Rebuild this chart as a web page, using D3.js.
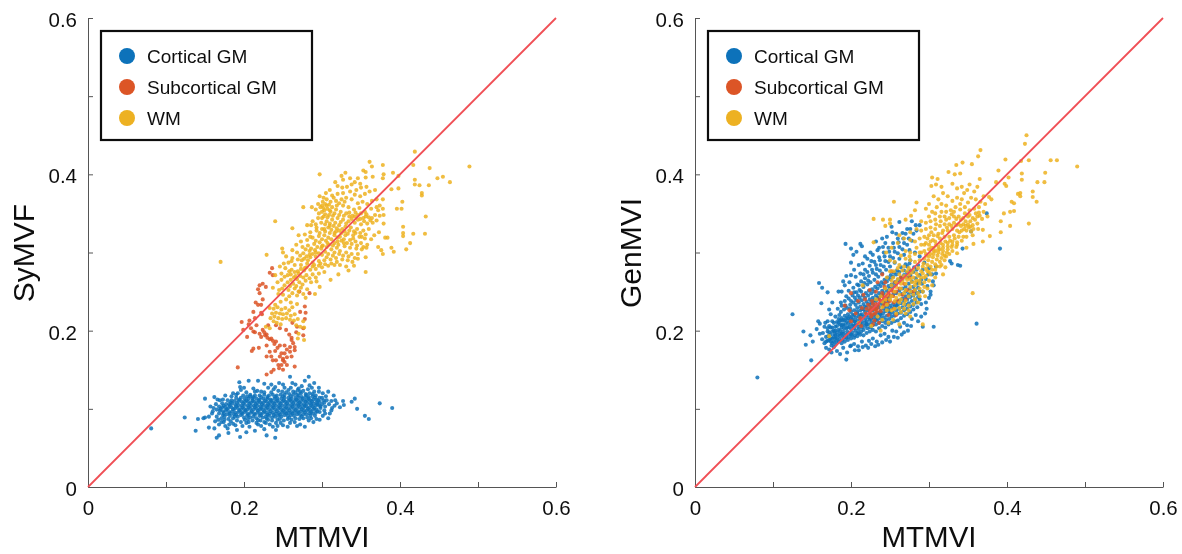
<!DOCTYPE html>
<html>
<head>
<meta charset="utf-8">
<script src="https://cdnjs.cloudflare.com/ajax/libs/d3/7.8.5/d3.min.js"></script>
<style>
  html, body { margin: 0; padding: 0; background: #fff; }
  svg { display: block; }
  text { font-family: "Liberation Sans", Arial, sans-serif; fill: #111; }
</style>
</head>
<body>
<div id="container"></div>
<script>
// values
var tissues = ['Cortical GM', 'Subcortical GM', 'WM'],
    colors = ['#0b72ba', '#dc5427', '#edb120'],
    tickValues = [0, 0.1, 0.2, 0.3, 0.4, 0.5, 0.6],
    tickLabels = ['0', '', '0.2', '', '0.4', '', '0.6'],
    identityLine = [0, 0.6],
    xTitle = 'MTMVI',
    yTitles = ['SyMVF', 'GenMVI'];

var corticalSyMVF = [
[.081,.075],[.124,.089],[.138,.072],[.141,.087],[.148,.088],[.150,.089],[.155,.09],[.155,.076],[.150,.113],[.162,.115],[.162,.075],[.168,.066],[.165,.063],[.180,.069],[.194,.134],[.195,.128],[.206,.136],[.218,.136],[.226,.132],[.259,.141],[.245,.133],[.283,.141],[.278,.136],[.290,.133],[.296,.127],[.327,.110],[.328,.105],[.338,.109],[.342,.113],[.345,.100],[.355,.091],[.360,.087],[.374,.107],[.390,.101],[.317,.111],[.313,.101],[.308,.088],[.278,.077],[.241,.073],[.240,.063],[.229,.066],[.256,.077],[.203,.070],[.195,.064],[.189,.079],[.176,.078],[.171,.083],[.183,.084],[.214,.072],[.222,.078],[.233,.08],[.247,.082],[.265,.083],[.272,.08],[.289,.083],[.297,.086],[.301,.091],[.31,.094],[.319,.107],[.323,.102],[.315,.117],[.308,.122],[.301,.12],[.287,.127],[.274,.129],[.266,.131],[.252,.127],[.238,.125],[.231,.127],[.222,.122],[.212,.126],[.203,.121],[.192,.12],[.184,.116],[.176,.117],[.169,.111],[.164,.106],[.161,.101],[.159,.094],[.165,.09],
[.171,.088],[.175,.086],[.18,.087],[.186,.088],[.191,.085],[.196,.083],[.201,.086],[.206,.083],[.211,.085],[.216,.082],[.221,.085],[.226,.083],[.231,.086],[.236,.085],[.241,.082],[.246,.087],[.251,.085],[.256,.087],[.261,.086],[.266,.088],[.271,.087],[.276,.088],[.281,.089],[.286,.088],[.291,.091],
[.168,.094],[.173,.092],[.178,.093],[.182,.091],[.187,.093],[.192,.09],[.196,.092],[.2,.089],[.204,.091],[.208,.089],[.212,.09],[.216,.088],[.22,.091],[.224,.089],[.228,.09],[.232,.091],[.236,.089],[.24,.09],[.244,.091],[.248,.09],[.252,.092],[.256,.091],[.26,.092],[.264,.091],[.268,.093],[.272,.092],[.276,.093],[.28,.093],[.284,.094],[.288,.094],[.292,.095],[.297,.096],[.303,.098],
[.165,.099],[.169,.098],[.173,.097],[.177,.098],[.181,.096],[.185,.097],[.189,.095],[.193,.096],[.197,.095],[.201,.096],[.205,.094],[.209,.095],[.213,.094],[.217,.095],[.221,.094],[.225,.095],[.229,.095],[.233,.094],[.237,.095],[.241,.094],[.245,.095],[.249,.095],[.253,.096],[.257,.095],[.261,.096],[.265,.096],[.269,.097],[.273,.097],[.277,.098],[.281,.098],[.285,.098],[.289,.099],[.293,.099],[.298,.101],[.304,.103],[.309,.106],
[.168,.103],[.172,.102],[.176,.102],[.18,.101],[.184,.102],[.188,.1],[.192,.101],[.196,.099],[.2,.1],[.204,.099],[.208,.1],[.212,.099],[.216,.1],[.22,.099],[.224,.099],[.228,.1],[.232,.099],[.236,.1],[.24,.099],[.244,.1],[.248,.099],[.252,.1],[.256,.1],[.26,.101],[.264,.1],[.268,.101],[.272,.102],[.276,.102],[.28,.103],[.284,.102],[.288,.103],[.292,.104],[.296,.105],[.3,.106],
[.172,.107],[.177,.106],[.181,.106],[.185,.107],[.189,.105],[.193,.105],[.197,.104],[.201,.105],[.205,.104],[.209,.104],[.213,.104],[.217,.104],[.221,.103],[.225,.104],[.229,.104],[.233,.104],[.237,.104],[.241,.104],[.245,.104],[.249,.104],[.253,.105],[.257,.105],[.261,.105],[.265,.105],[.269,.106],[.273,.106],[.277,.106],[.281,.107],[.285,.107],[.289,.107],[.293,.108],[.297,.109],[.302,.111],[.306,.111],
[.179,.111],[.184,.111],[.188,.11],[.193,.11],[.197,.109],[.201,.109],[.205,.109],[.209,.108],[.213,.109],[.217,.108],[.221,.108],[.225,.108],[.229,.109],[.233,.108],[.237,.108],[.241,.109],[.245,.108],[.249,.109],[.253,.109],[.257,.11],[.261,.109],[.265,.11],[.269,.11],[.273,.11],[.277,.111],[.281,.111],[.285,.111],[.289,.112],[.293,.112],[.297,.114],
[.19,.114],[.196,.114],[.201,.113],[.206,.113],[.211,.113],[.216,.113],[.22,.112],[.225,.113],[.23,.113],[.234,.112],[.239,.113],[.243,.113],[.248,.113],[.252,.114],[.257,.114],[.261,.113],[.266,.114],[.27,.114],[.274,.115],[.279,.115],[.283,.115],[.288,.116],[.292,.117],
[.208,.118],[.214,.117],[.22,.117],[.226,.118],[.232,.117],[.237,.118],[.242,.117],[.247,.118],[.252,.118],[.258,.119],[.263,.118],[.268,.118],[.273,.12],[.279,.119],[.284,.12],[.29,.122],
[.217,.123],[.226,.121],[.244,.123],[.249,.122],[.257,.124],[.263,.122],[.269,.124],[.276,.123],[.282,.125],[.24,.128],[.26,.127],[.208,.116],[.199,.117],
[.157,.103],[.16,.097],[.163,.084],[.168,.08],[.174,.083],[.179,.075],[.186,.081],[.191,.073],[.198,.078],[.207,.077],[.218,.08],[.226,.074],[.237,.077],[.25,.079],[.259,.082],[.268,.078],[.283,.085],[.293,.087],[.304,.094],[.312,.098],[.316,.104],[.312,.11],[.305,.116],[.296,.122],[.284,.13],[.27,.126],[.262,.133],[.25,.131],[.235,.131],[.214,.122],[.196,.124],[.186,.12],[.173,.112],[.166,.112],[.19,.118],[.2,.127],[.167,.086],[.181,.08],[.203,.082],[.228,.082],[.243,.078],
[.174,.0945],[.182,.094],[.19,.0925],[.198,.0935],[.206,.092],[.214,.0925],[.222,.092],[.23,.0925],[.238,.092],[.246,.0925],[.254,.094],[.262,.094],[.27,.095],[.278,.0955],[.286,.096],[.294,.097],
[.17,.1],[.178,.0995],[.186,.0995],[.194,.098],[.202,.098],[.21,.097],[.218,.0975],[.226,.097],[.234,.097],[.242,.097],[.25,.0975],[.258,.098],[.266,.0985],[.274,.0995],[.282,.1],[.29,.101],[.298,.103],
[.174,.104],[.182,.104],[.19,.103],[.198,.102],[.206,.102],[.214,.102],[.222,.101],[.23,.102],[.238,.102],[.246,.102],[.254,.102],[.262,.103],[.27,.104],[.278,.104],[.286,.105],[.294,.106],
[.183,.1085],[.191,.1075],[.199,.107],[.207,.1065],[.215,.106],[.223,.106],[.231,.106],[.239,.1065],[.247,.1065],[.255,.107],[.263,.1075],[.271,.108],[.279,.109],[.287,.1095],[.295,.1105],[.303,.108],
[.194,.112],[.203,.111],[.211,.1105],[.219,.1105],[.227,.1105],[.235,.1105],[.243,.111],[.251,.111],[.259,.1115],[.267,.112],[.275,.113],[.283,.113],[.291,.1145],[.3,.114],
[.204,.116],[.212,.115],[.222,.115],[.23,.115],[.24,.1155],[.25,.116],[.26,.116],[.27,.117],[.28,.1175],[.288,.119],[.235,.121],[.254,.121],[.266,.121],[.272,.122],
[.188,.09],[.205,.087],[.218,.0855],[.229,.0875],[.243,.086],[.258,.0885],[.274,.09],[.285,.091],[.175,.09]
];
var subcorticalSyMVF = [
[.236,.280],[.233,.274],[.237,.271],[.220,.258],[.224,.260],[.228,.256],[.218,.253],[.220,.248],[.215,.236],[.224,.240],[.218,.233],[.222,.233],[.212,.224],[.222,.223],[.223,.221],[.197,.211],[.207,.213],[.214,.216],[.199,.201],[.209,.203],[.212,.199],[.214,.198],[.204,.192],[.220,.196],[.224,.201],[.227,.194],[.230,.191],[.233,.189],[.237,.187],[.241,.186],[.222,.192],[.231,.207],[.241,.207],[.246,.203],[.254,.201],[.261,.191],[.261,.188],[.263,.184],[.265,.179],[.265,.175],[.276,.203],[.276,.194],[.278,.215],[.278,.231],[.212,.177],[.210,.174],[.229,.181],[.229,.167],[.235,.167],[.237,.162],[.246,.181],[.252,.181],[.259,.179],[.248,.171],[.252,.171],[.259,.173],[.250,.164],[.252,.160],[.248,.156],[.244,.156],[.250,.162],[.255,.156],[.192,.153],[.229,.144],[.235,.147],[.265,.154],[.241,.162],[.261,.167],[.284,.248],[.271,.250],[.226,.198],[.229,.195],[.235,.19],[.239,.183],[.243,.178],[.255,.176],[.246,.167],[.255,.166],[.245,.152],[.238,.15],[.25,.15],[.258,.195],[.267,.198],[.268,.205],[.262,.21],[.272,.224],[.279,.223],[.216,.207],[.206,.208],[.219,.178],[.233,.173],[.24,.174]
];
var wmSyMVF = [
[.170,.288],[.419,.429],[.417,.412],[.438,.408],[.489,.410],[.361,.416],[.364,.410],[.378,.412],[.353,.405],[.356,.403],[.365,.397],[.356,.396],[.379,.400],[.378,.395],[.391,.402],[.398,.398],[.297,.400],[.448,.395],[.455,.397],[.464,.390],[.437,.386],[.419,.393],[.419,.387],[.425,.386],[.428,.376],[.428,.373],[.398,.382],[.389,.381],[.378,.368],[.403,.365],[.396,.356],[.402,.356],[.378,.356],[.379,.348],[.374,.347],[.433,.346],[.404,.333],[.404,.325],[.404,.321],[.417,.324],[.432,.324],[.413,.312],[.408,.304],[.389,.306],[.392,.301],[.378,.298],[.376,.303],[.372,.307],[.381,.319],[.384,.319],[.373,.326],[.379,.337],[.357,.306],[.356,.294],[.346,.292],[.356,.275],[.341,.283],[.334,.277],[.321,.272],[.311,.265],[.297,.256],[.293,.263],[.240,.340],[.229,.297],[.276,.358],[.287,.358],[.262,.331],[.249,.305],[.250,.300],
[.325,.398],[.327,.393],[.33,.402],[.336,.395],[.342,.39],[.338,.387],[.346,.395],[.349,.388],[.344,.38],[.35,.383],[.357,.384],[.32,.385],[.317,.39],[.326,.383],[.332,.384],[.336,.378],[.31,.38],[.305,.376],[.302,.37],[.313,.373],[.32,.375],[.327,.376],[.342,.374],[.349,.372],[.355,.375],[.361,.378],[.368,.38],[.37,.368],[.364,.366],[.358,.362],[.352,.365],[.346,.363],[.338,.368],[.331,.37],[.325,.368],[.318,.366],[.311,.365],[.304,.362],[.298,.358],[.292,.355],[.3,.352],[.307,.356],[.313,.358],[.319,.36],[.327,.36],[.334,.358],[.341,.355],[.348,.357],[.355,.352],[.363,.356],[.37,.358],[.374,.36],[.368,.348],[.36,.345],[.353,.344],[.346,.348],[.339,.347],[.331,.35],[.324,.352],[.316,.35],[.309,.348],[.302,.346],[.295,.344],[.288,.34],[.281,.335],[.292,.336],[.299,.338],[.306,.34],[.313,.342],[.32,.344],[.327,.342],[.334,.34],[.342,.338],[.35,.336],[.358,.337],[.365,.338],[.37,.341],[.36,.33],[.353,.328],[.345,.33],[.337,.332],[.33,.333],[.322,.335],[.315,.334],[.308,.332],[.3,.33],[.293,.328],[.285,.326],[.278,.323],[.27,.322],[.273,.314],[.281,.316],[.288,.319],[.296,.321],[.303,.322],[.31,.325],[.318,.327],[.325,.325],[.333,.324],[.34,.322],[.348,.32],[.355,.318],[.363,.317],[.367,.322],[.358,.31],[.35,.312],[.343,.314],[.336,.316],[.328,.317],[.32,.319],[.312,.317],[.305,.315],[.297,.313],[.29,.311],[.282,.309],[.275,.307],[.267,.31],[.262,.303],[.268,.3],[.276,.299],[.284,.302],[.291,.303],[.299,.305],[.306,.307],[.314,.309],[.321,.31],[.329,.308],[.336,.306],[.344,.305],[.351,.304],[.346,.298],[.338,.298],[.331,.3],[.323,.302],[.316,.3],[.308,.298],[.3,.297],[.292,.295],[.285,.294],[.277,.292],[.269,.291],[.262,.293],[.254,.295],[.257,.287],[.265,.284],[.273,.284],[.281,.286],[.288,.287],[.296,.289],[.303,.29],[.311,.291],[.318,.293],[.326,.291],[.333,.29],[.339,.288],[.331,.282],[.323,.284],[.316,.284],[.308,.283],[.3,.281],[.292,.279],[.285,.278],[.277,.277],[.269,.276],[.261,.278],[.253,.28],[.246,.282],[.248,.273],[.256,.271],[.264,.268],[.272,.27],[.28,.271],[.288,.272],[.296,.273],[.303,.275],[.286,.262],[.279,.264],[.271,.262],[.263,.26],[.256,.262],[.248,.265],[.243,.262],[.24,.271],[.237,.255],[.249,.254],[.257,.252],[.265,.254],[.273,.255],[.281,.253],[.291,.247],[.276,.247],[.268,.245],[.258,.244],[.25,.246],[.244,.247],[.24,.233],
[.233,.229],[.238,.228],[.243,.23],[.248,.227],[.253,.229],[.258,.226],[.262,.23],[.236,.222],[.241,.223],[.246,.222],[.25,.221],[.255,.222],[.26,.219],[.265,.221],[.234,.216],[.239,.218],[.244,.216],[.249,.215],[.254,.216],[.259,.214],[.264,.213],[.269,.215],[.242,.21],[.247,.208],[.267,.207],[.272,.205],[.276,.212],[.228,.205],[.233,.203],[.238,.212],[.27,.196],[.277,.204],[.277,.188],[.269,.19],
[.297,.372],[.301,.365],[.306,.368],[.295,.362],[.309,.361],[.302,.357],[.315,.37],[.322,.363],[.329,.365],[.296,.35],[.304,.349],[.311,.352],[.318,.355],[.328,.347],[.335,.351],[.343,.351],[.35,.35],[.357,.349],[.364,.344],[.372,.354],[.317,.338],[.324,.339],[.331,.337],[.338,.343],[.346,.342],[.354,.34],[.362,.341],[.286,.335],[.293,.332],[.304,.336],[.297,.325],[.304,.327],[.312,.329],[.319,.331],[.326,.33],[.341,.327],[.349,.325],[.356,.323],[.285,.32],[.292,.315],[.3,.317],[.308,.319],[.316,.322],[.323,.32],[.33,.322],[.338,.311],[.345,.309],[.353,.307],[.328,.312],[.32,.314],[.309,.31],[.301,.309],[.294,.307],[.286,.305],[.279,.304],[.272,.296],[.28,.295],[.288,.298],[.296,.299],[.304,.301],[.312,.304],[.319,.306],[.327,.296],[.334,.295],[.342,.293],[.319,.288],[.312,.286],[.304,.285],[.296,.283],[.288,.282],[.28,.281],[.273,.279],[.265,.275],[.258,.276],[.251,.286],[.261,.289],[.252,.269],[.26,.265],[.268,.266],[.276,.268],[.284,.267],[.292,.268],[.275,.259],[.267,.257],[.259,.257],[.252,.258],[.245,.252],[.262,.248],[.27,.25],[.279,.242],[.26,.236],[.254,.24],[.247,.237],[.268,.234],
[.3,.36],[.306,.36],[.303,.354],[.31,.354],[.3,.344],[.307,.345],[.314,.347],[.322,.348],[.335,.346],[.342,.346],[.349,.343],[.356,.346],[.31,.337],[.303,.33],[.31,.334],[.316,.325],[.322,.328],[.329,.327],[.335,.328],[.343,.325],[.351,.32],[.34,.318],[.332,.312],[.325,.315],[.316,.312],[.307,.312],[.3,.308],[.292,.3],[.284,.297],[.274,.29],[.282,.29],[.29,.284],[.298,.286],[.306,.294],[.314,.296],[.322,.298],[.266,.27],[.26,.272],[.27,.273],[.278,.28]
];

var corticalGenMVI = [
[.080,.140],[.125,.221],[.139,.199],[.142,.182],[.148,.194],[.149,.162],[.151,.186],[.159,.261],[.163,.255],[.170,.249],[.162,.235],[.158,.212],[.160,.209],[.193,.311],[.200,.305],[.212,.311],[.214,.308],[.203,.297],[.207,.301],[.190,.263],[.192,.258],[.200,.271],[.184,.250],[.188,.250],[.176,.236],[.194,.163],[.205,.175],[.361,.209],[.306,.205],[.391,.305],[.327,.289],[.329,.286],[.337,.284],[.340,.283],[.309,.282],[.309,.273],[.374,.350],[.343,.305],[.354,.327],[.262,.339],[.252,.333],[.278,.340],[.283,.335],[.288,.335],[.240,.318],[.241,.307],[.302,.246],[.292,.205],
[.156,.202],[.16,.196],[.163,.189],[.166,.184],[.168,.178],[.172,.176],[.175,.172],[.178,.179],[.182,.174],[.186,.17],[.19,.178],[.195,.172],[.199,.18],[.204,.183],[.209,.18],[.214,.186],[.219,.181],[.223,.187],[.228,.19],[.233,.186],[.238,.194],[.243,.196],[.248,.192],[.253,.2],[.258,.199],[.263,.205],[.268,.21],[.272,.207],[.278,.215],[.283,.22],
[.164,.197],[.168,.192],[.172,.188],[.176,.184],[.18,.182],[.184,.186],[.188,.184],[.192,.186],[.196,.188],[.2,.19],[.204,.191],[.208,.193],[.212,.195],[.216,.194],[.22,.197],[.224,.199],[.228,.201],[.232,.199],[.236,.203],[.24,.206],[.244,.204],[.248,.208],[.252,.21],[.256,.212],[.26,.213],[.264,.216],[.268,.219],[.272,.221],[.276,.224],[.28,.227],[.285,.23],[.29,.234],
[.166,.205],[.17,.199],[.174,.195],[.178,.192],[.182,.19],[.186,.193],[.19,.192],[.194,.195],[.198,.197],[.202,.198],[.206,.2],[.21,.202],[.214,.204],[.218,.206],[.222,.208],[.226,.21],[.23,.212],[.234,.214],[.238,.216],[.242,.217],[.246,.219],[.25,.222],[.254,.223],[.258,.226],[.262,.228],[.266,.23],[.27,.233],[.274,.235],[.278,.238],[.282,.24],[.286,.243],[.292,.25],
[.17,.212],[.174,.204],[.178,.2],[.182,.198],[.186,.2],[.19,.199],[.194,.203],[.198,.205],[.202,.206],[.206,.208],[.21,.21],[.214,.212],[.218,.215],[.222,.217],[.226,.219],[.23,.221],[.234,.223],[.238,.225],[.242,.228],[.246,.23],[.25,.232],[.254,.234],[.258,.237],[.262,.239],[.266,.241],[.27,.244],[.274,.247],[.278,.249],[.282,.252],[.286,.255],[.291,.26],[.296,.266],
[.174,.221],[.178,.21],[.182,.206],[.186,.208],[.19,.208],[.194,.211],[.198,.213],[.202,.215],[.206,.217],[.21,.218],[.214,.221],[.218,.224],[.222,.226],[.226,.229],[.23,.231],[.234,.233],[.238,.236],[.242,.238],[.246,.241],[.25,.243],[.254,.246],[.258,.248],[.262,.251],[.266,.254],[.27,.256],[.274,.26],[.278,.263],[.283,.267],[.288,.271],
[.172,.227],[.18,.218],[.184,.215],[.188,.216],[.192,.219],[.196,.221],[.2,.224],[.204,.226],[.208,.229],[.212,.231],[.216,.234],[.22,.237],[.224,.24],[.228,.242],[.232,.245],[.236,.248],[.24,.251],[.244,.254],[.248,.257],[.252,.259],[.256,.262],[.26,.265],[.264,.268],[.268,.271],[.272,.274],[.276,.277],[.281,.281],
[.183,.228],[.187,.224],[.191,.227],[.195,.229],[.199,.233],[.203,.236],[.207,.239],[.211,.242],[.215,.245],[.219,.248],[.223,.251],[.227,.253],[.231,.256],[.235,.259],[.239,.262],[.243,.265],[.247,.268],[.251,.271],[.255,.274],[.259,.277],[.264,.281],[.27,.285],[.276,.29],
[.187,.236],[.192,.238],[.197,.241],[.202,.245],[.207,.249],[.211,.252],[.216,.256],[.221,.259],[.225,.262],[.23,.265],[.235,.269],[.24,.273],[.245,.278],[.25,.282],[.256,.287],[.262,.292],[.268,.297],[.275,.303],
[.197,.251],[.203,.255],[.208,.259],[.213,.263],[.218,.267],[.223,.27],[.228,.274],[.233,.279],[.238,.284],[.244,.289],[.25,.295],[.256,.301],[.262,.307],[.268,.312],[.274,.318],[.28,.324],
[.206,.269],[.212,.273],[.218,.278],[.224,.283],[.23,.288],[.236,.294],[.242,.3],[.248,.306],[.254,.312],[.26,.318],[.266,.325],[.272,.33],
[.215,.286],[.221,.292],[.228,.297],[.234,.303],[.232,.314],[.246,.32],[.253,.326],
[.2,.181],[.21,.175],[.222,.178],[.231,.18],[.24,.185],[.25,.186],[.26,.191],[.268,.198],[.277,.206],[.286,.212],[.295,.222],[.296,.236],[.302,.25],[.298,.257],[.305,.263],[.299,.272],[.292,.278],[.286,.284],
[.168,.186],[.171,.193],[.175,.181],[.174,.19],[.178,.186],[.181,.186],[.179,.196],[.183,.194],[.185,.189],[.189,.188],[.188,.196],[.192,.191],[.191,.203],[.195,.199],[.197,.192],[.201,.194],[.2,.202],[.204,.203],[.208,.197],[.205,.212],[.209,.205],[.213,.199],[.212,.208],[.216,.201],[.218,.21],[.221,.203],[.225,.204],[.22,.212],[.224,.214],[.228,.207],[.232,.208],[.229,.217],[.233,.218],[.236,.21],[.24,.212],[.237,.221],[.241,.222],[.245,.214],[.249,.215],[.244,.225],[.248,.227],[.252,.218],[.256,.219],[.252,.229],[.256,.231],[.26,.222],[.264,.223],[.26,.233],[.264,.235],[.268,.226],[.272,.228],[.268,.238],[.272,.24],[.276,.231],[.28,.233],[.276,.243],[.28,.245],[.284,.236],[.288,.24],[.284,.248],[.288,.25],
[.167,.21],[.172,.206],[.176,.199],[.18,.205],[.176,.212],[.182,.211],[.186,.213],[.188,.207],[.19,.214],[.194,.216],[.196,.209],[.198,.218],[.202,.22],[.204,.212],[.208,.224],[.212,.226],[.206,.233],[.21,.236],[.214,.228],[.218,.231],[.214,.239],[.218,.242],[.222,.234],[.226,.237],[.222,.245],[.226,.248],[.23,.239],[.234,.242],[.23,.25],[.234,.254],[.238,.245],[.242,.248],[.238,.257],[.242,.26],[.246,.251],[.25,.254],[.246,.263],[.25,.266],[.254,.257],[.258,.26],[.254,.269],[.258,.272],[.262,.263],[.266,.266],[.262,.275],[.268,.277],[.272,.268],[.276,.271],[.272,.282],[.28,.275],[.284,.278],[.275,.286],[.286,.262],[.29,.265],
[.185,.22],[.188,.232],[.193,.232],[.199,.228],[.194,.244],[.2,.238],[.205,.242],[.204,.249],[.209,.245],[.213,.25],[.21,.258],[.217,.261],[.222,.264],[.216,.272],[.221,.275],[.227,.278],[.232,.272],[.232,.284],[.226,.289],[.237,.277],[.242,.282],[.237,.29],[.243,.295],[.248,.288],[.254,.293],[.249,.301],[.255,.306],[.26,.299],[.266,.304],[.261,.313],[.267,.318],[.272,.31],[.278,.315],[.27,.324],[.276,.33],[.284,.328],[.258,.324],[.244,.312],[.236,.306],[.225,.3],[.218,.295],[.21,.284],[.204,.278],[.198,.262],[.194,.27],[.2,.287],[.282,.3],[.288,.295],[.294,.287],[.3,.28],[.304,.272],[.306,.258],[.3,.242],[.297,.228],[.29,.218],[.273,.2],[.265,.195],[.255,.192],[.245,.188],[.235,.182],[.226,.183],[.215,.179],
[.17,.187],[.176,.19],[.172,.198],[.18,.194],[.176,.204],[.184,.201],[.18,.2],[.188,.204],[.184,.21],[.192,.207],[.188,.213],[.196,.204],[.192,.213],[.2,.209],[.196,.216],[.204,.207],[.2,.216],[.208,.213],[.204,.22],[.212,.215],[.208,.222],[.216,.218],[.212,.22],[.22,.22],[.216,.227],[.224,.223],[.22,.23],[.228,.226],[.224,.233],[.232,.228],[.228,.235],[.236,.23],[.232,.238],[.24,.233],[.236,.242],[.244,.235],[.24,.245],[.248,.238],[.17,.203],[.174,.186],[.18,.19],[.186,.196],[.19,.196],[.194,.191],[.2,.195],[.205,.194],[.21,.197],[.214,.208],[.22,.208],[.226,.215],[.232,.214],[.238,.22],[.244,.21],[.249,.224],[.258,.232],[.265,.247],[.27,.25],[.275,.253],[.28,.256],[.285,.26]
];
var subcorticalGenMVI = [
[.192,.232],[.198,.226],[.2,.212],[.206,.222],[.209,.238],[.212,.216],[.214,.229],[.216,.246],[.219,.222],[.222,.233],[.224,.226],[.226,.218],[.227,.238],[.229,.228],[.231,.222],[.232,.234],[.234,.229],[.236,.24],[.23,.213],[.238,.225],[.24,.248],[.242,.232],[.243,.256],[.245,.24],[.247,.234],[.248,.248],[.25,.238],[.252,.252],[.254,.244],[.255,.228],[.257,.262],[.258,.25],[.26,.238],[.262,.254],[.264,.268],[.266,.246],[.268,.26],[.27,.24],[.272,.252],[.275,.268],[.224,.252],[.228,.208],[.236,.21],[.218,.24],[.213,.206],[.2,.248],[.234,.262],[.24,.272],[.252,.276],[.248,.22],[.258,.22],[.232,.25],[.244,.262],[.226,.226],[.23,.23],[.228,.221],[.233,.225],[.242,.24],[.28,.25],[.255,.236],
[.225,.23],[.228,.234],[.231,.227],[.224,.222],[.235,.233],[.238,.238],[.241,.244],[.246,.244],[.25,.245],[.254,.25],[.244,.235],[.22,.228]
];
var wmGenMVI = [
[.425,.450],[.423,.439],[.366,.431],[.363,.423],[.398,.419],[.418,.417],[.428,.418],[.456,.418],[.464,.418],[.343,.415],[.335,.412],[.355,.413],[.389,.405],[.325,.403],[.333,.400],[.340,.401],[.419,.401],[.449,.402],[.304,.396],[.311,.394],[.419,.393],[.402,.396],[.439,.390],[.448,.390],[.365,.394],[.386,.390],[.397,.388],[.399,.385],[.309,.387],[.316,.384],[.303,.385],[.433,.378],[.433,.371],[.414,.375],[.417,.376],[.417,.372],[.438,.365],[.406,.365],[.409,.363],[.255,.365],[.380,.368],[.377,.371],[.284,.364],[.282,.354],[.404,.352],[.409,.353],[.396,.350],[.428,.337],[.392,.340],[.404,.334],[.392,.326],[.369,.329],[.378,.321],[.369,.314],[.229,.343],[.241,.342],[.250,.342],[.250,.337],[.244,.334],[.277,.347],[.270,.342],[.229,.313],[.356,.248],[.321,.281],[.318,.272],[.356,.322],[.357,.311],[.348,.306],[.336,.299],[.292,.208],[.490,.410],
[.33,.388],[.336,.382],[.342,.384],[.349,.38],[.352,.387],[.345,.376],[.358,.378],[.362,.384],[.37,.372],[.372,.362],[.366,.365],[.36,.368],[.354,.37],[.35,.364],[.342,.368],[.336,.37],[.33,.366],[.324,.372],[.318,.376],[.312,.368],[.306,.372],[.3,.362],[.296,.356],[.304,.352],[.31,.358],[.316,.362],[.322,.36],[.328,.354],[.334,.358],[.34,.355],[.346,.358],[.352,.354],[.358,.356],[.364,.351],[.37,.352],[.375,.346],[.368,.343],[.362,.346],[.356,.344],[.35,.346],[.344,.344],[.338,.346],[.332,.346],[.326,.344],[.32,.346],[.314,.346],[.308,.342],[.302,.34],[.296,.338],[.29,.34],[.29,.328],[.296,.33],[.302,.332],[.308,.33],[.314,.334],[.32,.336],[.326,.336],[.332,.338],[.338,.336],[.344,.336],[.35,.336],[.356,.335],[.362,.337],[.354,.327],[.348,.328],[.342,.328],[.336,.328],[.33,.33],[.324,.328],[.318,.328],[.312,.324],[.306,.322],[.3,.322],[.294,.32],[.288,.318],[.282,.314],[.276,.316],[.284,.306],[.29,.31],[.296,.312],[.302,.314],[.308,.314],[.314,.318],[.32,.32],[.326,.32],[.332,.322],[.338,.32],[.344,.32],[.336,.313],[.33,.314],[.324,.312],[.318,.31],[.312,.308],[.306,.306],[.3,.304],[.294,.302],[.288,.3],[.282,.298],[.276,.3],[.27,.302],[.264,.296],[.27,.292],[.276,.29],[.282,.288],[.288,.29],[.294,.292],[.3,.295],[.306,.298],[.312,.3],[.318,.302],[.324,.304],[.33,.302],[.322,.295],[.316,.293],[.31,.291],[.304,.288],[.298,.284],[.292,.282],[.286,.28],[.28,.278],[.274,.28],[.268,.282],[.262,.284],[.256,.288],[.25,.29],[.255,.276],[.262,.272],[.268,.27],[.274,.272],[.28,.268],[.286,.27],[.292,.273],[.298,.276],[.304,.278],[.31,.282],[.316,.284],[.308,.268],[.3,.264],[.294,.262],[.288,.26],[.282,.258],[.276,.256],[.27,.26],[.264,.26],[.258,.262],[.252,.264],[.246,.268],[.25,.276],[.244,.254],[.25,.252],[.256,.25],[.262,.246],[.268,.248],[.274,.244],[.28,.246],[.286,.248],[.292,.25],[.298,.254],[.304,.258],[.286,.236],[.28,.234],[.274,.232],[.268,.234],[.262,.236],[.256,.238],[.25,.24],[.244,.24],[.238,.244],[.232,.24],[.24,.23],[.246,.226],[.252,.226],[.258,.222],[.264,.224],[.27,.222],[.276,.218],[.254,.214],[.248,.21],[.24,.214],[.234,.218],[.226,.206],[.238,.2],[.262,.208],[.172,.193],[.21,.21],[.215,.258],[.275,.295],[.245,.3],[.252,.306],[.26,.312],[.268,.318],[.276,.326],[.284,.33],[.262,.322],
[.29,.3],[.294,.31],[.298,.318],[.303,.326],[.309,.336],[.315,.34],[.322,.342],[.329,.349],[.335,.343],[.341,.342],[.347,.34],[.353,.34],[.359,.342],[.365,.347],[.297,.296],[.303,.306],[.309,.31],[.315,.312],[.321,.314],[.327,.315],[.333,.318],[.339,.326],[.345,.33],[.351,.332],[.357,.33],[.363,.33],[.293,.286],[.299,.29],[.305,.294],[.311,.296],[.317,.298],[.323,.3],[.329,.307],[.335,.307],[.326,.298],[.32,.29],[.314,.288],[.308,.285],[.302,.282],[.296,.279],[.29,.276],[.284,.273],[.278,.274],[.272,.276],[.266,.277],[.26,.28],[.296,.27],[.302,.272],[.29,.268],[.284,.264],[.278,.262],[.272,.265],[.266,.264],[.26,.266],[.254,.268],[.294,.256],[.288,.254],[.282,.252],[.276,.25],[.27,.252],[.264,.254],[.258,.256],[.252,.258],[.27,.238],[.264,.24],[.258,.242],[.252,.244],[.246,.246],[.24,.237],[.246,.233],[.256,.228],[.262,.229],[.268,.228],[.274,.226],[.282,.24],[.288,.244],[.295,.244],[.316,.352],[.322,.352],[.308,.35],[.3,.346],[.34,.362],[.332,.352],[.346,.35],[.352,.348],[.36,.35],[.364,.358],
[.3,.31],[.305,.316],[.311,.321],[.317,.325],[.323,.332],[.329,.334],[.335,.335],[.341,.334],[.347,.334],[.353,.333],[.306,.302],[.312,.304],[.318,.306],[.324,.308],[.33,.31],[.336,.31],[.342,.315],[.348,.32],[.296,.298],[.302,.298],[.308,.302],[.314,.304],[.32,.296],[.314,.282],[.308,.278],[.3,.275],[.294,.268],[.288,.264],[.282,.262],[.276,.266],[.27,.268]
];

var svg = d3.select('#container').append('svg')
  .attr('width', 1182)
  .attr('height', 554);

// the source is a slightly soft bitmap, so the whole drawing gets a light blur
svg.append('filter')
  .attr('id', 'soft')
  .attr('filterUnits', 'userSpaceOnUse')
  .attr('x', 0).attr('y', 0)
  .attr('width', 1182).attr('height', 554)
  .append('feGaussianBlur')
  .attr('stdDeviation', 0.35);

var root = svg.append('g').attr('filter', 'url(#soft)');

var panelLefts = [88, 695],
    panelSize = 468,
    plotTop = 18,
    plotBottom = 487;

function drawPanel(i, series) {
  var left = panelLefts[i];
  var x = d3.scaleLinear().domain([0, 0.6]).range([left, left + panelSize]);
  var y = d3.scaleLinear().domain([0, 0.6]).range([plotBottom, plotTop]);
  var g = root.append('g');

  var labelFor = function (d) { return tickLabels[tickValues.indexOf(d)]; };

  var xAxis = g.append('g')
    .attr('transform', 'translate(0,' + plotBottom + ')')
    .call(d3.axisBottom(x).tickValues(tickValues).tickFormat(labelFor)
      .tickSizeInner(-5).tickSizeOuter(0).tickPadding(8));
  var yAxis = g.append('g')
    .attr('transform', 'translate(' + left + ',0)')
    .call(d3.axisLeft(y).tickValues(tickValues).tickFormat(labelFor)
      .tickSizeInner(-5).tickSizeOuter(0).tickPadding(11));

  [xAxis, yAxis].forEach(function (a) {
    a.selectAll('.domain, line').attr('stroke', '#555').attr('stroke-width', 1);
    a.selectAll('text').style('font-size', '20.5px').style('fill', '#111');
    a.attr('font-family', null);
  });
  xAxis.selectAll('text').attr('y', 13).attr('dy', '0.71em');
  yAxis.selectAll('text').attr('dy', '0.42em');

  // the dots
  series.forEach(function (s) {
    g.append('g')
      .selectAll('circle')
      .data(s.points)
      .enter()
      .append('circle')
      .attr('cx', function (d) { return x(d[0]); })
      .attr('cy', function (d) { return y(d[1]); })
      .attr('r', 2.05)
      .attr('fill', s.color)
      .attr('fill-opacity', 0.85);
  });

  g.append('line')
    .attr('x1', x(identityLine[0]))
    .attr('y1', y(identityLine[0]))
    .attr('x2', x(identityLine[1]))
    .attr('y2', y(identityLine[1]))
    .attr('stroke', '#f04f55')
    .attr('stroke-width', 1.8);

  // axis titles
  g.append('text')
    .attr('x', left + panelSize / 2)
    .attr('y', 547)
    .attr('text-anchor', 'middle')
    .style('font-size', '29.5px')
    .text(xTitle);
  g.append('text')
    .attr('transform', 'translate(' + (left - 54) + ',' + 253 + ') rotate(-90)')
    .attr('text-anchor', 'middle')
    .style('font-size', '30px')
    .text(yTitles[i]);

  // legend
  var legend = g.append('g').attr('transform', 'translate(' + (left + 13) + ',31)');
  legend.append('rect')
    .attr('width', 211)
    .attr('height', 109)
    .attr('fill', '#fff')
    .attr('stroke', '#111')
    .attr('stroke-width', 2.2);
  tissues.forEach(function (name, k) {
    legend.append('circle')
      .attr('cx', 26)
      .attr('cy', 25 + k * 31)
      .attr('r', 8)
      .attr('fill', colors[k]);
    legend.append('text')
      .attr('x', 46)
      .attr('y', 31.5 + k * 31)
      .style('font-size', '19px')
      .text(name);
  });
}

drawPanel(0, [
  { points: corticalSyMVF, color: colors[0] },
  { points: subcorticalSyMVF, color: colors[1] },
  { points: wmSyMVF, color: colors[2] }
]);
drawPanel(1, [
  { points: corticalGenMVI, color: colors[0] },
  { points: subcorticalGenMVI, color: colors[1] },
  { points: wmGenMVI, color: colors[2] }
]);
</script>
</body>
</html>
